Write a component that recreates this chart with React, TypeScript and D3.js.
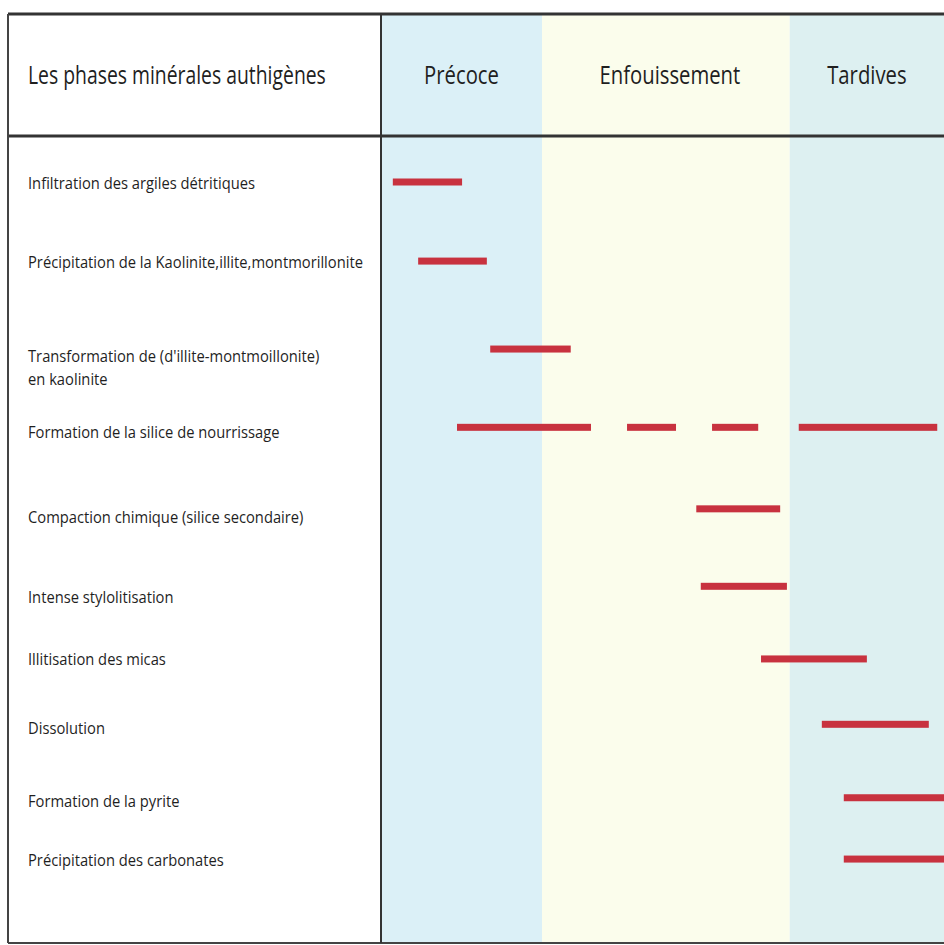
import React from "react";
import * as d3 from "d3";

// stages of diagenesis (x axis, relative time 0..100)
const stages = ["Précoce", "Enfouissement", "Tardives"];
const stageStart = [0, 28.6, 72.6];
const stageEnd = [28.6, 72.6, 105];
const stageColors = ["#dbf0f7", "#fbfdec", "#ddf0f1"];

const headerTitle = "Les phases minérales authigènes";

// authigenic phases, one row each
const phases = [
  ["Infiltration des argiles détritiques"],
  ["Précipitation de la Kaolinite,illite,montmorillonite"],
  ["Transformation de (d'illite-montmoillonite)", "en kaolinite"],
  ["Formation de la silice de nourrissage"],
  ["Compaction chimique (silice secondaire)"],
  ["Intense stylolitisation"],
  ["Illitisation des micas"],
  ["Dissolution"],
  ["Formation de la pyrite"],
  ["Précipitation des carbonates"],
];
// row positions (in row units) of the bars and of the labels
const barRows = [0.57, 1.55, 2.64, 3.61, 4.62, 5.58, 6.48, 7.29, 8.2, 8.96];
const labelRows = [0.58, 1.56, 2.73, 3.67, 4.72, 5.71, 6.48, 7.34, 8.24, 8.98];

// occurrence intervals [phase index, start, end]
const segments: [number, number, number][] = [
  [0, 2.1, 14.4],
  [1, 6.6, 18.8],
  [2, 19.4, 33.7],
  [3, 13.5, 37.3],
  [3, 43.7, 52.4],
  [3, 58.8, 67.0],
  [3, 74.2, 98.8],
  [4, 56.0, 70.9],
  [5, 56.8, 72.1],
  [6, 67.5, 86.3],
  [7, 78.3, 97.3],
  [8, 82.2, 105],
  [9, 82.2, 105],
];

const W = 944;
const H = 945;
const left = 8;
const divider = 381;
const top = 14;
const headerBottom = 136;
const bottom = 943;
const font = "'Open Sans', sans-serif";
const textColor = "#1f1f1f";

export default function App() {
  const x = d3.scaleLinear().domain([0, 100]).range([divider, W]);
  const y = d3.scaleLinear().domain([0, 10]).range([headerBottom, bottom]);
  const headerY = (top + headerBottom) / 2;

  return (
    <svg
      width={W}
      height={H}
      style={{ position: "absolute", left: 0, top: 0, background: "#fff" }}
    >
      {/* stage bands */}
      {stages.map((s, i) => (
        <rect
          key={s}
          x={x(stageStart[i])}
          y={top}
          width={x(stageEnd[i]) - x(stageStart[i])}
          height={bottom - top}
          fill={stageColors[i]}
        />
      ))}

      {/* stage headers */}
      {stages.map((s, i) => {
        const cx = (x(stageStart[i]) + Math.min(x(stageEnd[i]), W)) / 2;
        return (
          <text
            key={s}
            transform={`translate(${cx + (i === 1 ? 4 : 0)},${headerY}) scale(0.78,1)`}
            textAnchor="middle"
            dy="0.35em"
            fontFamily={font}
            fontSize={26}
            fill={textColor}
          >
            {s}
          </text>
        );
      })}
      <text
        transform={`translate(28,${headerY}) scale(0.745,1)`}
        dy="0.35em"
        fontFamily={font}
        fontSize={26}
        fill={textColor}
      >
        {headerTitle}
      </text>

      {/* phase labels */}
      {phases.map((lines, i) => (
        <g key={i} transform={`translate(28,${y(labelRows[i])}) scale(0.894,1)`}>
          {lines.map((l, j) => (
            <text
              key={j}
              y={j * 23}
              dy="0.35em"
              fontFamily={font}
              fontSize={16.5}
              fill={textColor}
            >
              {l}
            </text>
          ))}
        </g>
      ))}

      {/* bars */}
      {segments.map(([p, a, b], i) => (
        <rect
          key={i}
          x={x(a)}
          y={y(barRows[p]) - 3.5}
          width={x(b) - x(a)}
          height={7}
          fill="#c8323f"
        />
      ))}

      {/* frame */}
      <line x1={left} x2={W} y1={top} y2={top} stroke="#333" strokeWidth={3} />
      <line x1={left} x2={W} y1={headerBottom} y2={headerBottom} stroke="#333" strokeWidth={3} />
      <line x1={left} x2={W} y1={bottom} y2={bottom} stroke="#444" strokeWidth={2} />
      <line x1={left} x2={left} y1={top} y2={bottom} stroke="#444" strokeWidth={2} />
      <line x1={divider} x2={divider} y1={top} y2={bottom} stroke="#333" strokeWidth={2} />
    </svg>
  );
}
